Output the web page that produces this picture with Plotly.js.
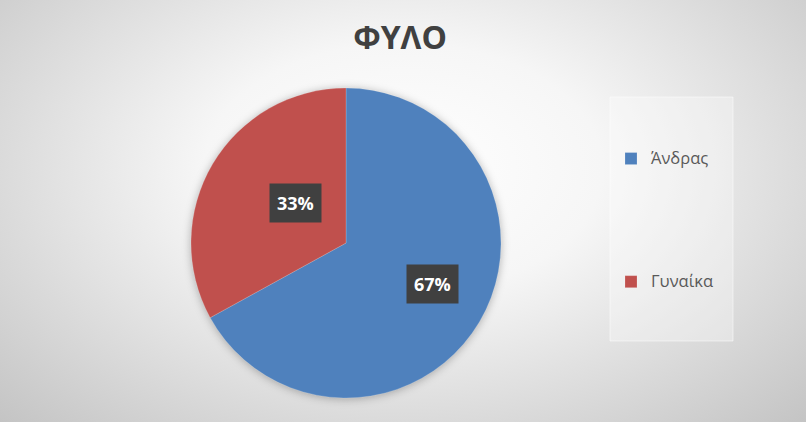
<!DOCTYPE html>
<html>
<head>
<meta charset="utf-8">
<script src="https://cdn.plot.ly/plotly-3.0.1.min.js"></script>
<style>
  html, body { margin: 0; padding: 0; }
  #chart {
    width: 806px; height: 422px;
    background: radial-gradient(ellipse at 50% 40%, #ffffff 0%, #f6f6f6 35%, #c4c4c4 100%);
  }
  #chart .pielayer { filter: drop-shadow(0px 1px 4px rgba(0,0,0,0.28)); }
</style>
</head>
<body>
<div id="chart"></div>
<script>
// ---- data ----
const chartTitle = 'ΦΥΛΟ';
const categories = ['Άνδρας', 'Γυναίκα'];
const percentValues = [67, 33];
const sliceColors = ['#4f81bd', '#c0504d'];

// ---- layout constants ----
const W = 806, H = 422;
const pieDomain = { x: [191 / W, 501 / W], y: [1 - 398 / H, 1 - 88 / H] };
const labelRadiusFrac = [0.615, 0.415];
const labelAngleShift = [-0.09, 0.14]; // radians, label placement tweak

const legendLabels = categories.map(c =>
  '<br><br><br><span style="font-size:16.5px">' + c + '</span><br><br><br>');

const trace = {
  type: 'pie',
  labels: legendLabels,
  values: percentValues,
  customdata: categories,
  marker: { colors: sliceColors, line: { color: 'rgba(255,255,255,0.35)', width: 0.5 } },
  sort: false,
  direction: 'clockwise',
  rotation: 0,
  textinfo: 'none',
  hovertemplate: '%{customdata}: %{value}%<extra></extra>',
  domain: pieDomain
};

// compute data label annotations from values
const total = percentValues.reduce((a, b) => a + b, 0);
const cxPx = (pieDomain.x[0] + pieDomain.x[1]) / 2 * W;
const cyPx = (1 - (pieDomain.y[0] + pieDomain.y[1]) / 2) * H;
const rPx = Math.min((pieDomain.x[1] - pieDomain.x[0]) * W, (pieDomain.y[1] - pieDomain.y[0]) * H) / 2;
let cum = 0;
const annotations = percentValues.map((v, i) => {
  const mid = (cum + v / 2) / total * 2 * Math.PI + labelAngleShift[i];
  cum += v;
  const rr = rPx * labelRadiusFrac[i];
  const px = cxPx + rr * Math.sin(mid);
  const py = cyPx - rr * Math.cos(mid);
  return {
    xref: 'paper', yref: 'paper',
    x: px / W, y: 1 - py / H,
    xanchor: 'center', yanchor: 'middle',
    text: '<b>' + Math.round(v / total * 100) + '%</b>',
    showarrow: false,
    font: { family: 'Open Sans, sans-serif', size: 18, color: '#ffffff' },
    bgcolor: '#404040',
    borderpad: 7
  };
});

const layout = {
  width: W, height: H,
  margin: { l: 0, r: 0, t: 0, b: 0 },
  paper_bgcolor: 'rgba(0,0,0,0)',
  plot_bgcolor: 'rgba(0,0,0,0)',
  title: {
    text: '<b>' + chartTitle + '</b>',
    font: { family: 'Open Sans, sans-serif', size: 32, color: '#404040' },
    x: 400 / W, xanchor: 'center',
    y: 1 - 38 / H, yanchor: 'middle'
  },
  showlegend: true,
  legend: {
    x: 611 / W, xanchor: 'left',
    y: 1 - 220.5 / H, yanchor: 'middle',
    bgcolor: 'rgba(0,0,0,0)',
    borderwidth: 0,
    itemwidth: 30,
    font: { family: 'Open Sans, sans-serif', size: 13.2, color: '#595959' }
  },
  shapes: [{
    type: 'rect', xref: 'paper', yref: 'paper', layer: 'below',
    x0: 610 / W, x1: 733 / W, y0: 1 - 341 / H, y1: 1 - 97 / H,
    fillcolor: 'rgba(255,255,255,0.32)',
    line: { color: 'rgba(255,255,255,0.5)', width: 1 }
  }],
  annotations: annotations
};

Plotly.newPlot('chart', [trace], layout, { displayModeBar: false });
</script>
</body>
</html>
